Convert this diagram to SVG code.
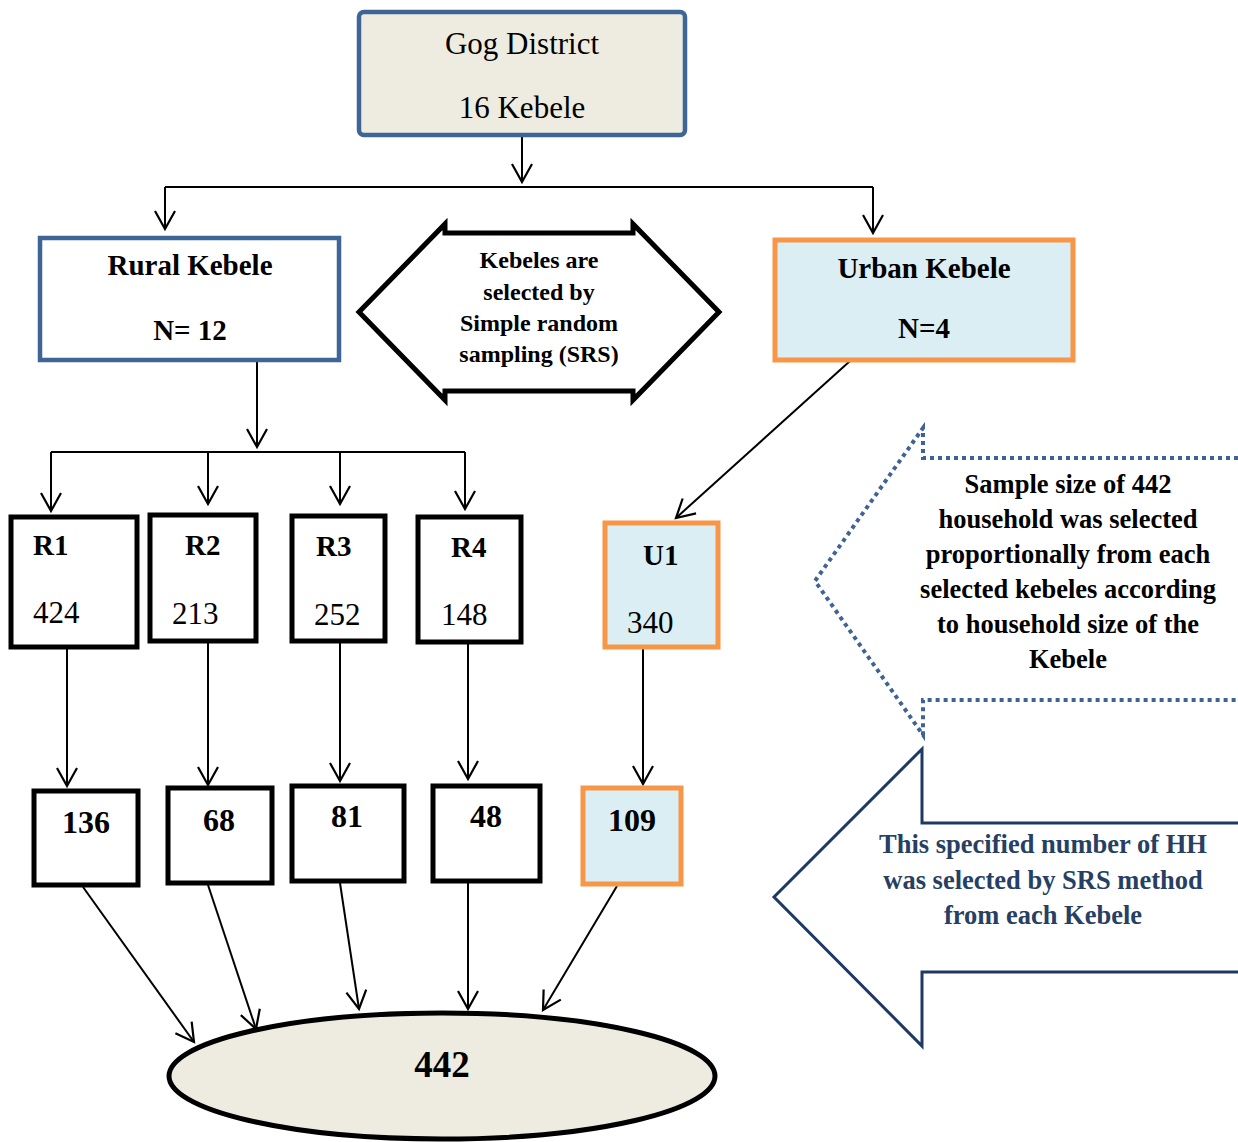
<svg xmlns="http://www.w3.org/2000/svg" width="1238" height="1142" viewBox="0 0 1238 1142">
<style>
text{font-family:"Liberation Serif","Times New Roman",serif;fill:#000}
.b{font-weight:bold}
.c{text-anchor:middle}
.blue{fill:#fff;stroke:#3f6496;stroke-width:4.5}
.org{fill:#daeef3;stroke:#f79646;stroke-width:5}
.blk{fill:#fff;stroke:#000;stroke-width:5}
.ln{fill:none;stroke:#000;stroke-width:2}
</style>
<defs>
<marker id="a" viewBox="-20 -12 22 24" markerWidth="22" markerHeight="24" refX="0" refY="0" orient="auto" markerUnits="userSpaceOnUse" overflow="visible">
<path d="M-18,-10 L0,0 L-18,10" fill="none" stroke="#000" stroke-width="2.2"/>
</marker>
</defs>
<rect width="1238" height="1142" fill="#fff"/>

<g id="connectors">
<path class="ln" d="M522,137 V182" marker-end="url(#a)"/>
<path class="ln" d="M165,187 H873" stroke-width="3.5"/>
<path class="ln" d="M165,187 V229" marker-end="url(#a)"/>
<path class="ln" d="M873,187 V233" marker-end="url(#a)"/>
<path class="ln" d="M850,361 L676,518" marker-end="url(#a)"/>
<path class="ln" d="M257,361 V447" marker-end="url(#a)"/>
<path class="ln" d="M51,452 H465"/>
<path class="ln" d="M51,452 V511" marker-end="url(#a)"/>
<path class="ln" d="M208,452 V504" marker-end="url(#a)"/>
<path class="ln" d="M340,452 V504" marker-end="url(#a)"/>
<path class="ln" d="M465,452 V509" marker-end="url(#a)"/>
<path class="ln" d="M67,648 V786" marker-end="url(#a)"/>
<path class="ln" d="M208,642 V785" marker-end="url(#a)"/>
<path class="ln" d="M340,642 V781" marker-end="url(#a)"/>
<path class="ln" d="M468,643 V779" marker-end="url(#a)"/>
<path class="ln" d="M643,648 V784" marker-end="url(#a)"/>
<path class="ln" d="M83,887 L194,1042" marker-end="url(#a)"/>
<path class="ln" d="M208,885 L256,1029" marker-end="url(#a)"/>
<path class="ln" d="M340,883 L359,1009" marker-end="url(#a)"/>
<path class="ln" d="M468,883 V1009" marker-end="url(#a)"/>
<path class="ln" d="M617,886 L543,1010" marker-end="url(#a)"/>
</g>

<g id="gog">
<rect x="359" y="12" width="326" height="123" rx="5" fill="#eeece1" stroke="#3f6496" stroke-width="4.5"/>
<text class="c" x="522" y="54" font-size="31">Gog District</text>
<text class="c" x="522" y="118" font-size="31">16 Kebele</text>
</g>

<g id="rural">
<rect class="blue" x="40" y="238" width="299" height="122"/>
<text class="b c" x="190" y="275" font-size="29">Rural Kebele</text>
<text class="b c" x="190" y="340" font-size="29">N= 12</text>
</g>

<g id="srs">
<path d="M359,312 L445,224 L445,233 L633,233 L633,224 L719,312 L633,400 L633,391 L445,391 L445,400 Z" fill="#fff" stroke="#000" stroke-width="5"/>
<text class="b c" x="539" y="268" font-size="24">Kebeles are</text>
<text class="b c" x="539" y="300" font-size="24">selected by</text>
<text class="b c" x="539" y="331" font-size="24">Simple random</text>
<text class="b c" x="539" y="362" font-size="24">sampling (SRS)</text>
</g>

<g id="urban">
<rect class="org" x="775" y="240" width="298" height="120"/>
<text class="b c" x="924" y="278" font-size="29">Urban Kebele</text>
<text class="b c" x="924" y="338" font-size="29">N=4</text>
</g>

<g id="r1">
<rect class="blk" x="11" y="517" width="126" height="130"/>
<text class="b" x="33" y="555" font-size="29">R1</text>
<text x="33" y="623" font-size="31">424</text>
</g>
<g id="r2">
<rect class="blk" x="150" y="515" width="106" height="126"/>
<text class="b" x="185" y="555" font-size="29">R2</text>
<text x="172" y="624" font-size="31">213</text>
</g>
<g id="r3">
<rect class="blk" x="292" y="516" width="93" height="125"/>
<text class="b" x="316" y="556" font-size="29">R3</text>
<text x="314" y="625" font-size="31">252</text>
</g>
<g id="r4">
<rect class="blk" x="418" y="517" width="103" height="125"/>
<text class="b" x="451" y="557" font-size="29">R4</text>
<text x="441" y="625" font-size="31">148</text>
</g>
<g id="u1">
<rect class="org" x="605" y="523" width="113" height="124"/>
<text class="b" x="643" y="565" font-size="29">U1</text>
<text x="627" y="633" font-size="31">340</text>
</g>

<g id="n136">
<rect class="blk" x="34" y="791" width="104" height="94"/>
<text class="b c" x="86" y="833" font-size="32">136</text>
</g>
<g id="n68">
<rect class="blk" x="168" y="788" width="104" height="95"/>
<text class="b c" x="219" y="831" font-size="32">68</text>
</g>
<g id="n81">
<rect class="blk" x="292" y="786" width="112" height="95"/>
<text class="b c" x="347" y="827" font-size="32">81</text>
</g>
<g id="n48">
<rect class="blk" x="433" y="786" width="107" height="95"/>
<text class="b c" x="486" y="827" font-size="32">48</text>
</g>
<g id="n109">
<rect class="org" x="583" y="788" width="98" height="96"/>
<text class="b c" x="632" y="831" font-size="32">109</text>
</g>

<g id="total">
<ellipse cx="442" cy="1076" rx="273" ry="63" fill="#eeece1" stroke="#000" stroke-width="5"/>
<text class="b c" x="442" y="1077" font-size="37">442</text>
</g>

<g id="note1">
<path d="M1238,458 H923 V428 L815,581 L923,735 V700 H1238" fill="none" stroke="#3f6397" stroke-width="4" stroke-dasharray="4 4"/>
<text class="b c" x="1068" y="493" font-size="26.5">Sample size of 442</text>
<text class="b c" x="1068" y="528" font-size="26.5">household was selected</text>
<text class="b c" x="1068" y="563" font-size="26.5">proportionally from each</text>
<text class="b c" x="1068" y="598" font-size="26.5">selected kebeles according</text>
<text class="b c" x="1068" y="633" font-size="26.5">to household size of the</text>
<text class="b c" x="1068" y="668" font-size="26.5">Kebele</text>
</g>

<g id="note2">
<path d="M1240,823 H922 V749 L774,897 L922,1046 V972 H1240" fill="#fff" stroke="#1f3864" stroke-width="3"/>
<text class="b c" x="1043" y="853" font-size="26.5" style="fill:#263f63">This specified number of HH</text>
<text class="b c" x="1043" y="889" font-size="26.5" style="fill:#263f63">was selected by SRS method</text>
<text class="b c" x="1043" y="924" font-size="26.5" style="fill:#263f63">from each Kebele</text>
</g>
</svg>
